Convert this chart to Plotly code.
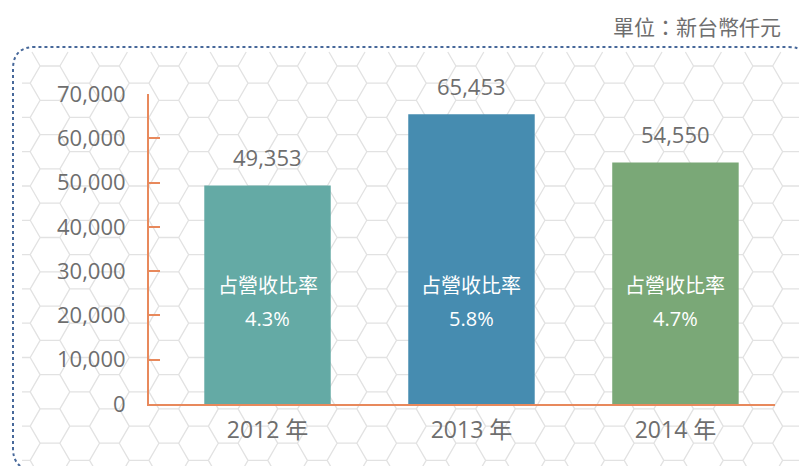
import math
import plotly.graph_objects as go

# ---- data ----
years = ["2012 年", "2013 年", "2014 年"]
revenue = [49353, 65453, 54550]
ratio = ["4.3%", "5.8%", "4.7%"]
ratio_label = "占營收比率"
y_ticks = [0, 10000, 20000, 30000, 40000, 50000, 60000, 70000]
unit_text = "單位：新台幣仟元"
bar_colors = ["#64AAA5", "#468CB0", "#7AA877"]

W, H = 799, 466
ML, MR, MT, MB = 149, 24, 94, 62
PW, PH = W - ML - MR, H - MT - MB

def px2x(px):
    return (px - ML) / PW

def px2y(py):
    return (H - MB - py) / PH

TXT = "#6e6e6e"
AX = "#E8895C"
FONT = "Open Sans, Noto Sans CJK TC, sans-serif"

fig = go.Figure()
fig.add_trace(go.Bar(
    x=years, y=revenue, marker_color=bar_colors, width=0.62,
    marker_line_width=0, hoverinfo="skip",
))

# ---- decorative hexagon background ----
s = 19.8
hh = s * math.sqrt(3) / 2
clip = (22, 52, 799, 470)

def clip_seg(x0, y0, x1, y1):
    xmin, ymin, xmax, ymax = clip
    dx, dy = x1 - x0, y1 - y0
    t0, t1 = 0.0, 1.0
    for p, q in ((-dx, x0 - xmin), (dx, xmax - x0), (-dy, y0 - ymin), (dy, ymax - y0)):
        if p == 0:
            if q < 0:
                return None
        else:
            t = q / p
            if p < 0:
                if t > t1:
                    return None
                t0 = max(t0, t)
            else:
                if t < t0:
                    return None
                t1 = min(t1, t)
    return (x0 + t0 * dx, y0 + t0 * dy, x0 + t1 * dx, y0 + t1 * dy)

segs = set()
for col in range(-2, 30):
    cx = 50 + col * 1.5 * s
    off = 0 if col % 2 == 0 else hh
    for row in range(-3, 16):
        cy = 66 + hh + off + row * 2 * hh
        pts = [(cx + s * math.cos(math.radians(a)), cy + s * math.sin(math.radians(a)))
               for a in range(0, 360, 60)]
        for i in range(6):
            a, b = pts[i], pts[(i + 1) % 6]
            key = tuple(sorted([(round(a[0], 1), round(a[1], 1)), (round(b[0], 1), round(b[1], 1))]))
            segs.add(key)

parts = []
for (a, b) in segs:
    c = clip_seg(a[0], a[1], b[0], b[1])
    if c is None:
        continue
    parts.append("M%.5f,%.5f L%.5f,%.5f" % (px2x(c[0]), px2y(c[1]), px2x(c[2]), px2y(c[3])))

fig.add_shape(type="path", xref="paper", yref="paper", path=" ".join(parts),
              line=dict(color="#e2e2e2", width=1.3), layer="below")

# ---- dotted rounded border ----
L, T, R, B, r = 13, 47, 810, 470, 22
bp = ("M%f,%f L%f,%f Q%f,%f %f,%f L%f,%f Q%f,%f %f,%f L%f,%f Q%f,%f %f,%f L%f,%f Q%f,%f %f,%f Z" % (
    px2x(L), px2y(T + r), px2x(L), px2y(B - r),
    px2x(L), px2y(B), px2x(L + r), px2y(B),
    px2x(R - r), px2y(B),
    px2x(R), px2y(B), px2x(R), px2y(B - r),
    px2x(R), px2y(T + r),
    px2x(R), px2y(T), px2x(R - r), px2y(T),
    px2x(L + r), px2y(T),
    px2x(L), px2y(T), px2x(L), px2y(T + r)))
fig.add_shape(type="path", xref="paper", yref="paper", path=bp,
              line=dict(color="#47689A", width=2, dash="dot"), layer="below")

# ---- annotations ----
for yr, v in zip(years, revenue):
    fig.add_annotation(x=yr, y=v, text=f"{v:,}", showarrow=False, yanchor="middle",
                       yshift=28, font=dict(size=22, color=TXT, family=FONT))
for yr, rt in zip(years, ratio):
    fig.add_annotation(x=yr, y=px2y(284), yref="paper", text=ratio_label, showarrow=False,
                       yanchor="middle", font=dict(size=20, color="white", family="Noto Sans CJK TC"))
    fig.add_annotation(x=yr, y=px2y(318), yref="paper", text=rt, showarrow=False,
                       yanchor="middle", font=dict(size=20, color="white", family=FONT))

fig.add_annotation(x=px2x(783), y=px2y(26), xref="paper", yref="paper", text=unit_text,
                   showarrow=False, xanchor="right", yanchor="middle",
                   font=dict(size=21, color=TXT, family="Noto Sans CJK TC"))

fig.update_layout(
    width=W, height=H, margin=dict(l=ML, r=MR, t=MT, b=MB),
    paper_bgcolor="white", plot_bgcolor="rgba(0,0,0,0)",
    showlegend=False, font=dict(family=FONT, color=TXT),
)
fig.update_xaxes(range=[-0.581, 2.488], showgrid=False, showline=True, linecolor=AX,
                 linewidth=2, ticks="", tickfont=dict(size=23, color=TXT), zeroline=False,
                 ticklabelstandoff=4)
fig.update_yaxes(range=[0, 70000], tickvals=y_ticks, ticktext=[f"{v:,}" for v in y_ticks],
                 showgrid=False, showline=True, linecolor=AX, linewidth=2, ticks="inside",
                 ticklen=11, tickwidth=2, tickcolor=AX, zeroline=False,
                 tickfont=dict(size=22, color=TXT), ticklabelstandoff=17)

fig.write_html("out.html", config={"displayModeBar": False},
               post_script="document.body.style.margin='0px';document.body.style.overflow='hidden';")
